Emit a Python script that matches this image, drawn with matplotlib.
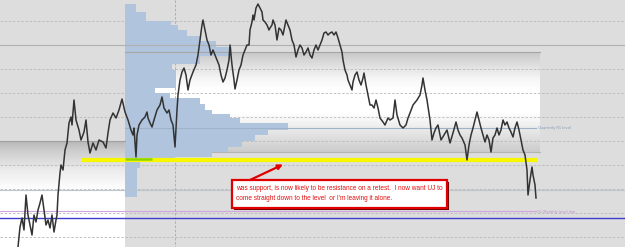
import numpy as np
import matplotlib
matplotlib.use("Agg")
import matplotlib.pyplot as plt
from matplotlib.patches import Rectangle

# ---------------- data (chart units: x = bar position, y = price row, top = 0) -------------
bar_x = [18, 20, 22, 24, 26, 28, 30, 32, 34, 36, 38, 40, 42, 44, 46, 48, 50, 52, 54, 56, 57, 58,
         60, 61, 63, 65, 67, 69, 71, 72, 74, 76, 79, 81, 84, 86, 88, 90, 93, 96, 99, 103, 106, 108,
         110, 113, 116, 119, 122, 125, 128, 131, 133, 134, 136, 137, 139, 142, 145, 147, 148, 150,
         152, 154, 157, 160, 162, 164, 167, 169, 171, 173, 175, 177, 178, 180, 182, 184, 186, 188,
         190, 193, 196, 198, 200, 202, 203, 205, 207, 209, 211, 213, 215, 217, 219, 221, 223, 225,
         227, 229, 230, 232, 234, 235, 237, 239, 241, 243, 245, 247, 249, 250, 252, 253, 254, 256,
         258, 260, 262, 263, 265, 267, 269, 270, 272, 273, 275, 277, 279, 281, 283, 285, 286, 288,
         290, 292, 294, 296, 298, 300, 302, 304, 306, 308, 310, 312, 314, 316, 318, 320, 322, 324,
         326, 328, 330, 332, 334, 336, 338, 340, 342, 343, 345, 347, 348, 350, 352, 353, 355, 357,
         359, 361, 363, 364, 366, 368, 370, 372, 374, 376, 378, 380, 383, 385, 388, 390, 393, 395,
         397, 400, 403, 406, 408, 410, 413, 417, 420, 422, 423, 425, 427, 430, 432, 434, 436, 438,
         440, 441, 444, 447, 450, 453, 456, 458, 460, 462, 465, 467, 469, 471, 473, 475, 477, 479,
         481, 483, 485, 487, 489, 491, 493, 495, 497, 499, 501, 503, 505, 507, 509, 511, 513, 515,
         517, 519, 521, 523, 525, 527, 528, 530, 532, 533, 535, 536]
price = [247, 227, 218, 230, 195, 215, 225, 235, 215, 222, 210, 203, 195, 210, 225, 220, 228, 215,
         232, 220, 215, 195, 173, 165, 170, 150, 143, 123, 117, 125, 100, 120, 130, 140, 132, 120,
         142, 153, 143, 150, 140, 142, 148, 133, 120, 113, 118, 110, 99, 112, 120, 130, 135, 128,
         157, 135, 125, 120, 117, 112, 118, 123, 127, 120, 110, 105, 97, 108, 113, 110, 120, 125,
         147, 110, 95, 80, 72, 68, 75, 90, 80, 72, 65, 55, 40, 25, 20, 30, 40, 45, 55, 50, 55, 60,
         65, 75, 82, 78, 70, 60, 45, 65, 80, 89, 80, 70, 65, 55, 50, 45, 45, 30, 22, 15, 20, 8, 4,
         8, 12, 20, 22, 25, 30, 28, 25, 20, 25, 40, 28, 30, 35, 25, 20, 25, 30, 40, 45, 57, 50, 45,
         48, 55, 52, 48, 55, 58, 50, 45, 50, 45, 40, 33, 32, 35, 33, 32, 35, 32, 38, 45, 52, 60, 70,
         75, 80, 85, 90, 82, 75, 72, 80, 85, 78, 73, 85, 95, 105, 105, 108, 100, 108, 118, 122, 125,
         118, 120, 118, 100, 115, 125, 128, 125, 118, 113, 105, 100, 95, 85, 78, 90, 100, 120, 140,
         133, 128, 125, 135, 140, 135, 130, 143, 133, 122, 130, 135, 138, 145, 160, 145, 135, 128,
         120, 112, 120, 128, 135, 142, 135, 140, 152, 138, 135, 128, 135, 130, 120, 125, 122, 128,
         132, 137, 128, 122, 130, 140, 150, 155, 170, 195, 180, 167, 175, 185, 198]

# volume profile: price bins (top, bottom) and volume
vp_top = [4, 12, 21, 25, 30, 36, 41, 47, 56, 64, 70, 88, 93, 98, 104, 110, 114, 118, 123, 130,
          135, 141, 147, 152, 157, 162, 168]
vp_bottom = [12, 21, 25, 30, 36, 41, 47, 56, 64, 70, 88, 93, 98, 104, 110, 114, 118, 123, 130,
             135, 141, 147, 152, 157, 162, 168, 197]
vp_volume = [11, 21, 46, 53, 62, 75, 91, 107, 75, 47, 51, 30, 45, 75, 80, 87, 105, 115, 163,
             143, 130, 117, 103, 87, 50, 15, 12]

grid_levels = [21, 45, 69, 93, 117, 141, 165, 189, 213, 237]
support_level = 159.5
blue_level = 218
purple_level = 211
quarterly_level = 128

note_lines = ["was support, is now likely to be resistance on a retest.  I now want UJ to",
              "come straight down to the level  or I'm leaving it alone."]

# ---------------- figure ----------------
W, H = 625, 247
fig = plt.figure(figsize=(W / 100, H / 100), dpi=100, facecolor="#dddddd")
ax = fig.add_axes([0, 0, 1, 1])
ax.set_facecolor("#dddddd")
ax.set_xlim(0, W)
ax.set_ylim(H, 0)
ax.set_axis_off()

# zone A (upper right) gradient
ya = np.linspace(52, 152, 200)
ga = np.interp(ya, [52, 60, 78, 90, 112, 125, 140, 152], [0.78, 0.84, 0.96, 1.0, 1.0, 0.94, 0.86, 0.80])
ax.imshow(np.repeat(ga[:, None], 2, axis=1), cmap="gray", vmin=0, vmax=1, aspect="auto",
          extent=(125, 540, 152, 52), zorder=0.5, interpolation="bilinear")
ax.plot([125, 540], [152, 152], color="#b4b4b4", lw=0.8, zorder=0.6)

# zone B (lower left) gradient
yb = np.linspace(141, 247, 200)
gb = np.interp(yb, [141, 150, 170, 190, 247], [0.72, 0.80, 0.92, 1.0, 1.0])
ax.imshow(np.repeat(gb[:, None], 2, axis=1), cmap="gray", vmin=0, vmax=1, aspect="auto",
          extent=(0, 125, 247, 141), zorder=0.5, interpolation="bilinear")

# grid
for g in grid_levels:
    ax.plot([0, W], [g, g], color="#b9b9b9", lw=0.6, ls=(0, (3, 2)), zorder=1)
ax.plot([175, 175], [0, H], color="#a8a8a8", lw=0.6, ls=(0, (3, 2)), zorder=1)

# volume profile
for t, b, v in zip(vp_top, vp_bottom, vp_volume):
    ax.add_patch(Rectangle((125, t), v, b - t, facecolor="#b0c4de", edgecolor="none", zorder=2))

# horizontal levels
ax.plot([0, W], [45, 45], color="#b0b0b0", lw=0.8, zorder=3)
ax.plot([125, 540], [52, 52], color="#a6a6a6", lw=0.8, zorder=3)
ax.plot([0, 125], [141, 141], color="#a0a0a0", lw=0.8, zorder=3)
ax.plot([125, 536], [quarterly_level, quarterly_level], color="#9fb3c8", lw=0.8, zorder=3)
ax.plot([0, W], [190, 190], color="#bcc4cc", lw=0.8, zorder=3)
ax.plot([0, 536], [purple_level, purple_level], color="#cfa6dc", lw=0.8, zorder=3)
ax.plot([0, W], [blue_level, blue_level], color="#3d3dd0", lw=1.0, zorder=3)
ax.text(538, quarterly_level, "Quarterly R1 level", fontsize=2.6, color="#7f9ab6",
        va="center", ha="left", zorder=4)
ax.text(537, purple_level + 1, "Q1 Monthly level line", fontsize=2.6, color="#c08ad2",
        va="center", ha="left", zorder=4)

# support line
ax.plot([82, 537], [support_level, support_level], color="#f7f700", lw=3.0,
        solid_capstyle="butt", zorder=4)
ax.plot([125, 152], [support_level - 0.6, support_level - 0.6], color="#8fd400", lw=1.8,
        solid_capstyle="butt", zorder=4.5)

# price
ax.plot(bar_x, price, color="#333333", lw=1.1, zorder=5)

# annotation box
ax.add_patch(Rectangle((233.5, 181.5), 215, 28, facecolor="#700000", edgecolor="none", zorder=6))
ax.add_patch(Rectangle((232, 180), 215, 28, facecolor="white", edgecolor="#e00000", lw=1.6, zorder=6.5))
ax.text(236, 188, note_lines[0], fontsize=4.7, color="#e01010", family="Liberation Sans",
        va="center", ha="left", zorder=7)
ax.text(236, 198, note_lines[1], fontsize=4.7, color="#e01010", family="Liberation Sans",
        va="center", ha="left", zorder=7)
ax.annotate("", xy=(283, 164.5), xytext=(250, 180),
            arrowprops=dict(arrowstyle="-|>", color="#e00000", lw=1.6, mutation_scale=7,
                            shrinkA=0, shrinkB=0), zorder=7)

fig.savefig("out.png", dpi=100, facecolor=fig.get_facecolor())
